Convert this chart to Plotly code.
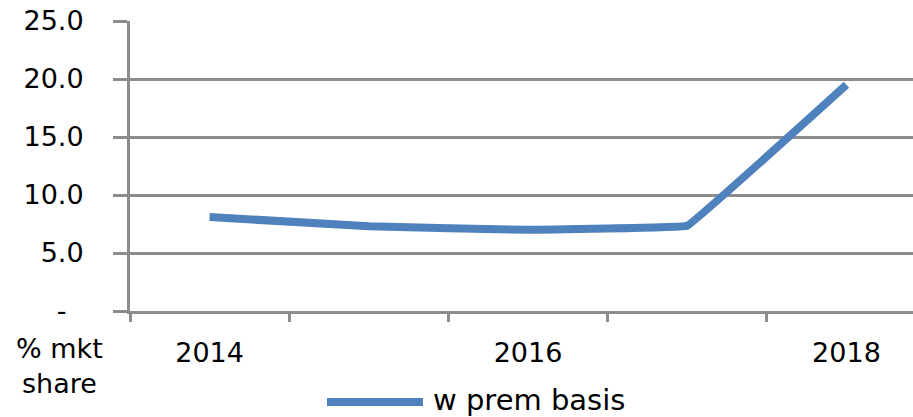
import plotly.graph_objects as go

# Market share, premium basis (%)
years = ["2014", "2015", "2016", "2017", "2018"]
share = [8.1, 7.3, 7.0, 7.35, 19.5]
year_labels = ["2014", "", "2016", "", "2018"]
y_ticks = [0, 5, 10, 15, 20, 25]
y_tick_labels = ["-\u00a0\u00a0", "5.0", "10.0", "15.0", "20.0", "25.0"]
series_name = "w prem basis"
axis_note = "% mkt<br>share"

LINE_COLOR = "#4F81BD"
GRID = "#8C8C8C"
FONT = "DejaVu Sans"

fig = go.Figure()
fig.add_trace(go.Scatter(
    x=years, y=share, mode="lines", name=series_name,
    line=dict(color=LINE_COLOR, width=8, shape="spline", smoothing=0.1),
    showlegend=False,
))

fig.update_layout(
    width=913, height=417,
    margin=dict(l=130, r=0, t=21, b=106),
    paper_bgcolor="white", plot_bgcolor="white",
    font=dict(family=FONT, size=27, color="black"),
    xaxis=dict(
        type="category", range=[-0.5, 4.418],
        tickvals=years, ticktext=year_labels,
        tickson="boundaries", ticks="outside", ticklen=8, tickwidth=3,
        tickcolor=GRID, showgrid=False, showline=True, linecolor=GRID,
        linewidth=3, zeroline=False, ticklabelstandoff=16,
    ),
    yaxis=dict(
        range=[0, 25], tickvals=y_ticks, ticktext=y_tick_labels,
        ticks="outside", ticklen=14, tickwidth=3, tickcolor=GRID,
        showgrid=True, gridcolor=GRID, gridwidth=3,
        showline=True, linecolor=GRID, linewidth=3,
        zeroline=False, ticklabelstandoff=24,
    ),
)

# Legend entry: line swatch plus series name
fig.add_shape(type="line", xref="paper", yref="paper",
              x0=(327 - 130) / 783, x1=(423 - 130) / 783,
              y0=-(402 - 311) / 290, y1=-(402 - 311) / 290,
              line=dict(color=LINE_COLOR, width=8))
fig.add_annotation(text=series_name, xref="paper", yref="paper",
                   x=(431 - 130) / 783, y=-(400 - 311) / 290,
                   xanchor="left", yanchor="middle", showarrow=False,
                   font=dict(family=FONT, size=29, color="black"))

# Units note under the value axis
fig.add_annotation(text=axis_note, xref="paper", yref="paper",
                   x=(59 - 130) / 783, y=-(366 - 311) / 290,
                   xanchor="center", yanchor="middle", showarrow=False,
                   align="center",
                   font=dict(family=FONT, size=27, color="black"))

fig.write_html("out.html")
